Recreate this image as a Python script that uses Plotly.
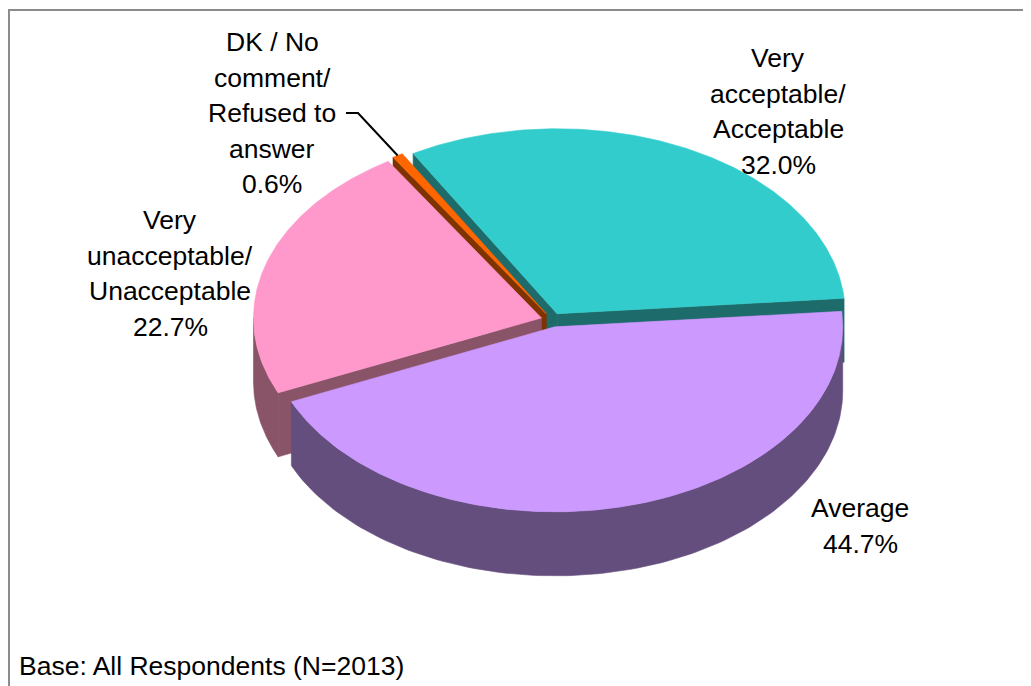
import numpy as np
import plotly.graph_objects as go

# data
categories = ["Very acceptable/ Acceptable", "Average",
              "Very unacceptable/ Unacceptable", "DK / No comment/ Refused to answer"]
label_lines = [["Very", "acceptable/", "Acceptable"],
               ["Average"],
               ["Very", "unacceptable/", "Unacceptable"],
               ["DK / No", "comment/", "Refused to", "answer"]]
values = [32.0, 44.7, 22.7, 0.6]

top_colors = ["#33CCCC", "#CC99FF", "#FF99CC", "#FF6600"]
side_colors = ["#1E6B6B", "#644E7E", "#8A5468", "#7F3300"]

# geometry of the tilted pie (pixels)
CX, CY = 552, 320
RX, RY = 288, 185
DEPTH = 64
EXPLODE = 11
START = 330  # degrees clockwise from 12 o'clock

# the page body has an 8px margin, so the axes start at 8
OFF = 8

# where the labels sit (centre x, first line y)
label_pos = [(778, 58), (860, 508), (170, 220), (272, 42)]
LINE_STEP = 35.5
FONT = dict(family="Liberation Sans, Arial, sans-serif", size=26.5, color="black")


def rim(ox, oy, angles, drop=0):
    a = np.radians(angles)
    return ox + RX * np.sin(a), oy - RY * np.cos(a) + drop


total = sum(values)
spans = [v / total * 360 for v in values]
starts = START + np.concatenate([[0], np.cumsum(spans)[:-1]])

slices = []
for i, (s, sp) in enumerate(zip(starts, spans)):
    e = s + sp
    mid = np.radians(s + sp / 2)
    ox = CX + EXPLODE * np.sin(mid)
    oy = CY - EXPLODE * (RY / RX) * np.cos(mid)
    slices.append((i, s, e, ox, oy))

# paint back to front
slices.sort(key=lambda t: -np.cos(np.radians((t[1] + t[2]) / 2)))

fig = go.Figure()


def poly(xs, ys, color):
    fig.add_trace(go.Scatter(x=list(xs) + [xs[0]], y=list(ys) + [ys[0]], mode="lines",
                             fill="toself", fillcolor=color,
                             line=dict(color=color, width=0.6),
                             hoverinfo="skip", showlegend=False))


for i, s, e, ox, oy in slices:
    side = side_colors[i]
    # radial walls facing the viewer
    for ang, visible in ((s, np.sin(np.radians(s)) < 0), (e, np.sin(np.radians(e)) > 0)):
        if visible:
            rx_, ry_ = rim(ox, oy, [ang])
            poly([ox, rx_[0], rx_[0], ox], [oy, ry_[0], ry_[0] + DEPTH, oy + DEPTH], side)
    # outer rim on the front half
    for k in range(-1, 2):
        lo = max(s, 90 + 360 * k)
        hi = min(e, 270 + 360 * k)
        if hi > lo:
            ang = np.linspace(lo, hi, 120)
            xt, yt = rim(ox, oy, ang)
            xb, yb = rim(ox, oy, ang[::-1], DEPTH)
            poly(np.concatenate([xt, xb]), np.concatenate([yt, yb]), side)
    # top face
    ang = np.linspace(s, e, max(4, int((e - s) * 2)))
    xt, yt = rim(ox, oy, ang)
    poly(np.concatenate([[ox], xt]), np.concatenate([[oy], yt]), top_colors[i])

# labels
annotations = []
for lines, v, (lx, ly) in zip(label_lines, values, label_pos):
    for j, txt in enumerate(lines + [f"{v:.1f}%"]):
        annotations.append(dict(x=lx, y=ly + j * LINE_STEP, text=txt, showarrow=False,
                                xanchor="center", yanchor="middle", font=FONT))
annotations.append(dict(x=17, y=666, text="Base: All Respondents (N=2013)", showarrow=False,
                        xanchor="left", yanchor="middle", font=FONT))

# leader line for the small slice
dk = [t for t in slices if t[0] == 3][0]
mx, my = rim(dk[3], dk[4], [(dk[1] + dk[2]) / 2])
lx, ly = label_pos[3]
fig.add_trace(go.Scatter(x=[lx + 74, lx + 86, mx[0]], y=[ly + 2 * LINE_STEP] * 2 + [my[0]],
                         mode="lines", line=dict(color="black", width=2),
                         hoverinfo="skip", showlegend=False))

fig.update_layout(
    width=1031, height=686,
    margin=dict(l=0, r=0, t=0, b=0),
    paper_bgcolor="white", plot_bgcolor="white",
    xaxis=dict(range=[OFF, 1031 + OFF], visible=False, fixedrange=True),
    yaxis=dict(range=[686 + OFF, OFF], visible=False, fixedrange=True),
    annotations=annotations,
    shapes=[dict(type="rect", xref="x", yref="y", x0=9, y0=10, x1=1028, y1=720,
                 line=dict(color="#8C8C8C", width=2), layer="below")],
)

fig.write_html("out.html")
